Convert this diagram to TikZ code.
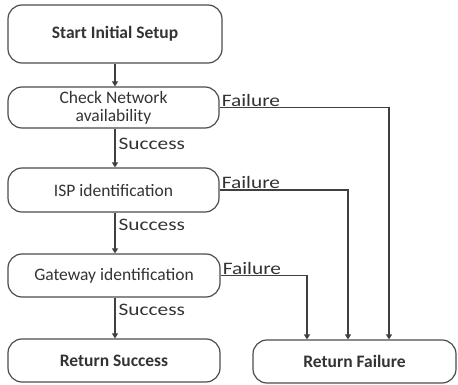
\documentclass[tikz,border=0pt]{standalone}
\usepackage{fontspec}
\setmainfont{Carlito}
\newfontfamily\lblfont[FakeStretch=1.22]{Carlito}
\usetikzlibrary{arrows.meta,calc}
\begin{document}
\begin{tikzpicture}[x=1pt,y=-1pt,
  box/.style={draw=black!70, line width=1.2pt, rounded corners=14pt, align=center,
    text=black!80, inner sep=2pt, font=\fontsize{17.5}{19}\selectfont},
  boldbox/.style={box, font=\fontsize{17.5}{19}\selectfont\bfseries},
  conn/.style={draw=black!75, line width=1.2pt, -{Triangle[width=6pt,length=5pt]}},
  lbl/.style={text=black!80, inner sep=1pt, font=\lblfont\fontsize{17.5}{19}\selectfont}]
\useasboundingbox (0,0) rectangle (458,385);
\node[boldbox, minimum width=214pt, minimum height=58pt] (b1) at (115,34) {Start Initial Setup};
\node[box, minimum width=211pt, minimum height=41pt] (b2) at (113.5,107.5) {Check Network\\[-1pt]availability};
\node[box, minimum width=211pt, minimum height=44pt] (b3) at (113.5,190) {ISP identification};
\node[box, minimum width=212pt, minimum height=43pt] (b4) at (114,275.5) {Gateway identification};
\node[boldbox, minimum width=212pt, minimum height=43pt] (b5) at (114,360.5) {Return Success};
\node[boldbox, minimum width=203pt, minimum height=43pt] (rf) at (354.5,361.5) {Return Failure};

\draw[conn] (b1.south -| 115,0) -- (b2.north -| 115,0);
\draw[conn] (b2.south -| 115,0) -- node[lbl, pos=0.4, right=2pt] {Success} (b3.north -| 115,0);
\draw[conn] (b3.south -| 115,0) -- node[lbl, pos=0.3, right=2pt] {Success} (b4.north -| 115,0);
\draw[conn] (b4.south -| 115,0) -- node[lbl, pos=0.3, right=2pt] {Success} (b5.north -| 115,0);

\coordinate (t1) at ([xshift=34.5pt]rf.north);
\coordinate (t2) at ([xshift=-6.5pt]rf.north);
\coordinate (t3) at ([xshift=-47.5pt]rf.north);
\draw[conn] (b2.east) -| (t1);
\draw[conn] (b3.east) -| (t2);
\draw[conn] (b4.east) -| (t3);
\node[lbl, anchor=south west] at ([xshift=1pt]b2.east) {Failure};
\node[lbl, anchor=south west] at ([xshift=1pt]b3.east) {Failure};
\node[lbl, anchor=south west] at ([xshift=1pt]b4.east) {Failure};
\end{tikzpicture}
\end{document}
